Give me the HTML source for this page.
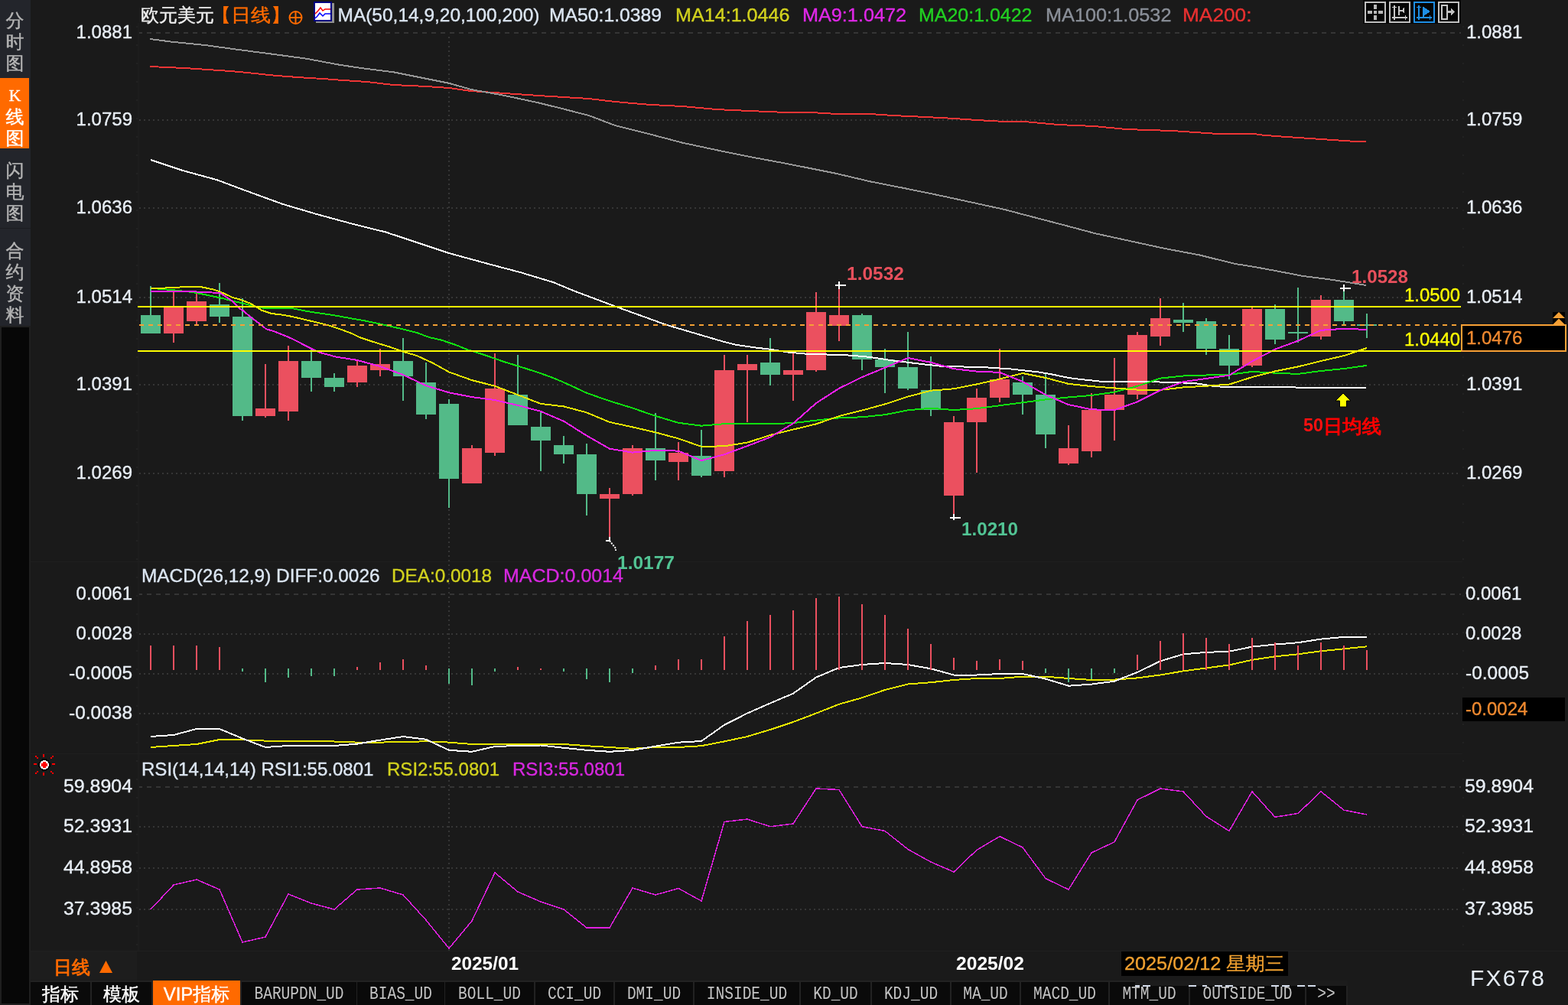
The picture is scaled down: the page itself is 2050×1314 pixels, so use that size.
<!DOCTYPE html><html><head><meta charset="utf-8"><title>EURUSD</title><style>
html,body{margin:0;padding:0;background:#1a1a1a;width:2050px;height:1314px;overflow:hidden}
svg{display:block}
text{font-family:"Liberation Sans","WenQuanYi Zen Hei",sans-serif;white-space:pre}
.cjk{font-family:"Liberation Sans","WenQuanYi Zen Hei","Noto Sans CJK SC",sans-serif}
.mono{font-family:"Liberation Mono","WenQuanYi Zen Hei",monospace}
</style></head><body>
<svg width="2050" height="1314" viewBox="0 0 2050 1314">
<rect x="0" y="0" width="2050" height="1314" fill="#1a1a1a"/>
<g shape-rendering="crispEdges">
<rect x="0" y="0" width="40" height="426" fill="#23252b"/>
<rect x="0" y="426" width="40" height="888" fill="#1f1f1f"/>
<rect x="0" y="102" width="38" height="92" fill="#ff6a00"/>
<rect x="0" y="298" width="40" height="1" fill="#1c1d21"/>
<rect x="2" y="428" width="36" height="884" fill="#070707"/>
</g>
<text x="19.5" y="35" fill="#b4b4b4" font-size="24" text-anchor="middle" class="cjk"  stroke="#b4b4b4" stroke-width="0.4">分</text>
<text x="19.5" y="63" fill="#b4b4b4" font-size="24" text-anchor="middle" class="cjk"  stroke="#b4b4b4" stroke-width="0.4">时</text>
<text x="19.5" y="91" fill="#b4b4b4" font-size="24" text-anchor="middle" class="cjk"  stroke="#b4b4b4" stroke-width="0.4">图</text>
<text x="19.5" y="132" fill="#ffffff" font-size="22" text-anchor="middle" style="font-family:'Liberation Serif',serif" stroke="#ffffff" stroke-width="0.35">K</text>
<text x="19.5" y="161" fill="#ffffff" font-size="24" text-anchor="middle" class="cjk"  stroke="#ffffff" stroke-width="0.4">线</text>
<text x="19.5" y="189" fill="#ffffff" font-size="24" text-anchor="middle" class="cjk"  stroke="#ffffff" stroke-width="0.4">图</text>
<text x="19.5" y="231" fill="#b4b4b4" font-size="24" text-anchor="middle" class="cjk"  stroke="#b4b4b4" stroke-width="0.4">闪</text>
<text x="19.5" y="259" fill="#b4b4b4" font-size="24" text-anchor="middle" class="cjk"  stroke="#b4b4b4" stroke-width="0.4">电</text>
<text x="19.5" y="287" fill="#b4b4b4" font-size="24" text-anchor="middle" class="cjk"  stroke="#b4b4b4" stroke-width="0.4">图</text>
<text x="19.5" y="336" fill="#b4b4b4" font-size="24" text-anchor="middle" class="cjk"  stroke="#b4b4b4" stroke-width="0.4">合</text>
<text x="19.5" y="364" fill="#b4b4b4" font-size="24" text-anchor="middle" class="cjk"  stroke="#b4b4b4" stroke-width="0.4">约</text>
<text x="19.5" y="392" fill="#b4b4b4" font-size="24" text-anchor="middle" class="cjk"  stroke="#b4b4b4" stroke-width="0.4">资</text>
<text x="19.5" y="420" fill="#b4b4b4" font-size="24" text-anchor="middle" class="cjk"  stroke="#b4b4b4" stroke-width="0.4">料</text>
<g shape-rendering="crispEdges">
<line x1="180" y1="43" x2="1910" y2="43" stroke="#353535" stroke-width="2" stroke-dasharray="6 6"/>
<line x1="182" y1="157" x2="1910" y2="157" stroke="#363636" stroke-width="2" stroke-dasharray="2 4"/>
<line x1="182" y1="272" x2="1910" y2="272" stroke="#363636" stroke-width="2" stroke-dasharray="2 4"/>
<line x1="182" y1="389" x2="1910" y2="389" stroke="#363636" stroke-width="2" stroke-dasharray="2 4"/>
<line x1="182" y1="503" x2="1910" y2="503" stroke="#363636" stroke-width="2" stroke-dasharray="2 4"/>
<line x1="182" y1="619" x2="1910" y2="619" stroke="#363636" stroke-width="2" stroke-dasharray="2 4"/>
<line x1="180" y1="777" x2="1910" y2="777" stroke="#353535" stroke-width="2" stroke-dasharray="6 6"/>
<line x1="182" y1="829" x2="1910" y2="829" stroke="#363636" stroke-width="2" stroke-dasharray="2 4"/>
<line x1="182" y1="881" x2="1910" y2="881" stroke="#363636" stroke-width="2" stroke-dasharray="2 4"/>
<line x1="182" y1="933" x2="1910" y2="933" stroke="#363636" stroke-width="2" stroke-dasharray="2 4"/>
<line x1="180" y1="1029" x2="1910" y2="1029" stroke="#353535" stroke-width="2" stroke-dasharray="6 6"/>
<line x1="182" y1="1081" x2="1910" y2="1081" stroke="#363636" stroke-width="2" stroke-dasharray="2 4"/>
<line x1="182" y1="1135" x2="1910" y2="1135" stroke="#363636" stroke-width="2" stroke-dasharray="2 4"/>
<line x1="182" y1="1189" x2="1910" y2="1189" stroke="#363636" stroke-width="2" stroke-dasharray="2 4"/>
<line x1="587" y1="48" x2="587" y2="1243" stroke="#363636" stroke-width="2" stroke-dasharray="2 4"/>
<rect x="180" y="30" width="2" height="1213" fill="#1d1d1d"/>
<line x1="179" y1="34" x2="179" y2="1243" stroke="#222" stroke-width="2" stroke-dasharray="2 22"/>
<line x1="1913" y1="34" x2="1913" y2="1243" stroke="#222" stroke-width="2" stroke-dasharray="2 22"/>
<rect x="40" y="734" width="1872" height="1" fill="#1f1f1f"/>
<rect x="40" y="985" width="1872" height="1" fill="#1f1f1f"/>
<rect x="40" y="1243" width="2010" height="1" fill="#202020"/>
</g>
<text x="173" y="50" fill="#e8eef5" font-size="24" text-anchor="end"  stroke="#e8eef5" stroke-width="0.35">1.0881</text><text x="1917" y="50" fill="#e8eef5" font-size="24"  stroke="#e8eef5" stroke-width="0.35">1.0881</text>
<text x="173" y="164" fill="#e8eef5" font-size="24" text-anchor="end"  stroke="#e8eef5" stroke-width="0.35">1.0759</text><text x="1917" y="164" fill="#e8eef5" font-size="24"  stroke="#e8eef5" stroke-width="0.35">1.0759</text>
<text x="173" y="279" fill="#e8eef5" font-size="24" text-anchor="end"  stroke="#e8eef5" stroke-width="0.35">1.0636</text><text x="1917" y="279" fill="#e8eef5" font-size="24"  stroke="#e8eef5" stroke-width="0.35">1.0636</text>
<text x="173" y="396" fill="#e8eef5" font-size="24" text-anchor="end"  stroke="#e8eef5" stroke-width="0.35">1.0514</text><text x="1917" y="396" fill="#e8eef5" font-size="24"  stroke="#e8eef5" stroke-width="0.35">1.0514</text>
<text x="173" y="510" fill="#e8eef5" font-size="24" text-anchor="end"  stroke="#e8eef5" stroke-width="0.35">1.0391</text><text x="1917" y="510" fill="#e8eef5" font-size="24"  stroke="#e8eef5" stroke-width="0.35">1.0391</text>
<text x="173" y="626" fill="#e8eef5" font-size="24" text-anchor="end"  stroke="#e8eef5" stroke-width="0.35">1.0269</text><text x="1917" y="626" fill="#e8eef5" font-size="24"  stroke="#e8eef5" stroke-width="0.35">1.0269</text>
<text x="173" y="784" fill="#e8eef5" font-size="24" text-anchor="end"  stroke="#e8eef5" stroke-width="0.35">0.0061</text>
<text x="173" y="836" fill="#e8eef5" font-size="24" text-anchor="end"  stroke="#e8eef5" stroke-width="0.35">0.0028</text>
<text x="173" y="888" fill="#e8eef5" font-size="24" text-anchor="end" textLength="83" lengthAdjust="spacingAndGlyphs"  stroke="#e8eef5" stroke-width="0.35">-0.0005</text>
<text x="173" y="940" fill="#e8eef5" font-size="24" text-anchor="end" textLength="83" lengthAdjust="spacingAndGlyphs"  stroke="#e8eef5" stroke-width="0.35">-0.0038</text>
<text x="1916" y="784" fill="#e8eef5" font-size="24"  stroke="#e8eef5" stroke-width="0.35">0.0061</text>
<text x="1916" y="836" fill="#e8eef5" font-size="24"  stroke="#e8eef5" stroke-width="0.35">0.0028</text>
<text x="1916" y="888" fill="#e8eef5" font-size="24" textLength="83" lengthAdjust="spacingAndGlyphs"  stroke="#e8eef5" stroke-width="0.35">-0.0005</text>
<text x="173" y="1036" fill="#e8eef5" font-size="24" text-anchor="end" textLength="90" lengthAdjust="spacingAndGlyphs"  stroke="#e8eef5" stroke-width="0.35">59.8904</text><text x="1915" y="1036" fill="#e8eef5" font-size="24" textLength="90" lengthAdjust="spacingAndGlyphs"  stroke="#e8eef5" stroke-width="0.35">59.8904</text>
<text x="173" y="1088" fill="#e8eef5" font-size="24" text-anchor="end" textLength="90" lengthAdjust="spacingAndGlyphs"  stroke="#e8eef5" stroke-width="0.35">52.3931</text><text x="1915" y="1088" fill="#e8eef5" font-size="24" textLength="90" lengthAdjust="spacingAndGlyphs"  stroke="#e8eef5" stroke-width="0.35">52.3931</text>
<text x="173" y="1142" fill="#e8eef5" font-size="24" text-anchor="end" textLength="90" lengthAdjust="spacingAndGlyphs"  stroke="#e8eef5" stroke-width="0.35">44.8958</text><text x="1915" y="1142" fill="#e8eef5" font-size="24" textLength="90" lengthAdjust="spacingAndGlyphs"  stroke="#e8eef5" stroke-width="0.35">44.8958</text>
<text x="173" y="1196" fill="#e8eef5" font-size="24" text-anchor="end" textLength="90" lengthAdjust="spacingAndGlyphs"  stroke="#e8eef5" stroke-width="0.35">37.3985</text><text x="1915" y="1196" fill="#e8eef5" font-size="24" textLength="90" lengthAdjust="spacingAndGlyphs"  stroke="#e8eef5" stroke-width="0.35">37.3985</text>
<g shape-rendering="crispEdges">
<rect x="196" y="374" width="2" height="62" fill="#53ba88"/>
<rect x="184" y="412" width="26" height="24" fill="#53ba88"/>
<rect x="226" y="382" width="2" height="66" fill="#eb505f"/>
<rect x="214" y="402" width="26" height="34" fill="#eb505f"/>
<rect x="256" y="384" width="2" height="41" fill="#eb505f"/>
<rect x="244" y="394" width="26" height="26" fill="#eb505f"/>
<rect x="286" y="370" width="2" height="52" fill="#53ba88"/>
<rect x="274" y="398" width="26" height="16" fill="#53ba88"/>
<rect x="316" y="390" width="2" height="160" fill="#53ba88"/>
<rect x="304" y="414" width="26" height="130" fill="#53ba88"/>
<rect x="346" y="476" width="2" height="70" fill="#eb505f"/>
<rect x="334" y="534" width="26" height="10" fill="#eb505f"/>
<rect x="376" y="452" width="2" height="98" fill="#eb505f"/>
<rect x="364" y="472" width="26" height="66" fill="#eb505f"/>
<rect x="406" y="456" width="2" height="56" fill="#53ba88"/>
<rect x="394" y="472" width="26" height="22" fill="#53ba88"/>
<rect x="436" y="488" width="2" height="24" fill="#53ba88"/>
<rect x="424" y="494" width="26" height="12" fill="#53ba88"/>
<rect x="466" y="470" width="2" height="36" fill="#eb505f"/>
<rect x="454" y="478" width="26" height="22" fill="#eb505f"/>
<rect x="496" y="456" width="2" height="36" fill="#eb505f"/>
<rect x="484" y="476" width="26" height="8" fill="#eb505f"/>
<rect x="526" y="442" width="2" height="82" fill="#53ba88"/>
<rect x="514" y="472" width="26" height="20" fill="#53ba88"/>
<rect x="556" y="474" width="2" height="74" fill="#53ba88"/>
<rect x="544" y="500" width="26" height="42" fill="#53ba88"/>
<rect x="586" y="522" width="2" height="142" fill="#53ba88"/>
<rect x="574" y="528" width="26" height="98" fill="#53ba88"/>
<rect x="616" y="582" width="2" height="50" fill="#eb505f"/>
<rect x="604" y="586" width="26" height="46" fill="#eb505f"/>
<rect x="646" y="462" width="2" height="134" fill="#eb505f"/>
<rect x="634" y="508" width="26" height="84" fill="#eb505f"/>
<rect x="676" y="464" width="2" height="92" fill="#53ba88"/>
<rect x="664" y="516" width="26" height="40" fill="#53ba88"/>
<rect x="706" y="537" width="2" height="79" fill="#53ba88"/>
<rect x="694" y="558" width="26" height="18" fill="#53ba88"/>
<rect x="736" y="570" width="2" height="36" fill="#53ba88"/>
<rect x="724" y="582" width="26" height="12" fill="#53ba88"/>
<rect x="766" y="580" width="2" height="94" fill="#53ba88"/>
<rect x="754" y="594" width="26" height="52" fill="#53ba88"/>
<rect x="796" y="638" width="2" height="64" fill="#eb505f"/>
<rect x="784" y="646" width="26" height="6" fill="#eb505f"/>
<rect x="826" y="582" width="2" height="66" fill="#eb505f"/>
<rect x="814" y="586" width="26" height="60" fill="#eb505f"/>
<rect x="856" y="540" width="2" height="88" fill="#53ba88"/>
<rect x="844" y="586" width="26" height="16" fill="#53ba88"/>
<rect x="886" y="578" width="2" height="50" fill="#eb505f"/>
<rect x="874" y="592" width="26" height="12" fill="#eb505f"/>
<rect x="916" y="562" width="2" height="62" fill="#53ba88"/>
<rect x="904" y="596" width="26" height="26" fill="#53ba88"/>
<rect x="946" y="464" width="2" height="160" fill="#eb505f"/>
<rect x="934" y="484" width="26" height="132" fill="#eb505f"/>
<rect x="976" y="464" width="2" height="88" fill="#eb505f"/>
<rect x="964" y="476" width="26" height="8" fill="#eb505f"/>
<rect x="1006" y="442" width="2" height="62" fill="#53ba88"/>
<rect x="994" y="474" width="26" height="16" fill="#53ba88"/>
<rect x="1036" y="462" width="2" height="62" fill="#eb505f"/>
<rect x="1024" y="484" width="26" height="6" fill="#eb505f"/>
<rect x="1066" y="382" width="2" height="104" fill="#eb505f"/>
<rect x="1054" y="408" width="26" height="76" fill="#eb505f"/>
<rect x="1096" y="376" width="2" height="70" fill="#eb505f"/>
<rect x="1084" y="412" width="26" height="14" fill="#eb505f"/>
<rect x="1126" y="410" width="2" height="74" fill="#53ba88"/>
<rect x="1114" y="412" width="26" height="58" fill="#53ba88"/>
<rect x="1156" y="456" width="2" height="58" fill="#53ba88"/>
<rect x="1144" y="470" width="26" height="10" fill="#53ba88"/>
<rect x="1186" y="434" width="2" height="76" fill="#53ba88"/>
<rect x="1174" y="480" width="26" height="28" fill="#53ba88"/>
<rect x="1216" y="466" width="2" height="78" fill="#53ba88"/>
<rect x="1204" y="510" width="26" height="26" fill="#53ba88"/>
<rect x="1246" y="544" width="2" height="128" fill="#eb505f"/>
<rect x="1234" y="552" width="26" height="96" fill="#eb505f"/>
<rect x="1276" y="508" width="2" height="110" fill="#eb505f"/>
<rect x="1264" y="520" width="26" height="32" fill="#eb505f"/>
<rect x="1306" y="456" width="2" height="70" fill="#eb505f"/>
<rect x="1294" y="496" width="26" height="24" fill="#eb505f"/>
<rect x="1336" y="492" width="2" height="50" fill="#53ba88"/>
<rect x="1324" y="500" width="26" height="16" fill="#53ba88"/>
<rect x="1366" y="488" width="2" height="98" fill="#53ba88"/>
<rect x="1354" y="516" width="26" height="52" fill="#53ba88"/>
<rect x="1396" y="556" width="2" height="52" fill="#eb505f"/>
<rect x="1384" y="586" width="26" height="20" fill="#eb505f"/>
<rect x="1426" y="514" width="2" height="84" fill="#eb505f"/>
<rect x="1414" y="536" width="26" height="54" fill="#eb505f"/>
<rect x="1456" y="468" width="2" height="108" fill="#eb505f"/>
<rect x="1444" y="516" width="26" height="20" fill="#eb505f"/>
<rect x="1486" y="434" width="2" height="88" fill="#eb505f"/>
<rect x="1474" y="438" width="26" height="78" fill="#eb505f"/>
<rect x="1516" y="390" width="2" height="62" fill="#eb505f"/>
<rect x="1504" y="416" width="26" height="24" fill="#eb505f"/>
<rect x="1546" y="396" width="2" height="38" fill="#53ba88"/>
<rect x="1534" y="418" width="26" height="4" fill="#53ba88"/>
<rect x="1576" y="416" width="2" height="48" fill="#53ba88"/>
<rect x="1564" y="420" width="26" height="36" fill="#53ba88"/>
<rect x="1606" y="438" width="2" height="58" fill="#53ba88"/>
<rect x="1594" y="456" width="26" height="22" fill="#53ba88"/>
<rect x="1636" y="402" width="2" height="78" fill="#eb505f"/>
<rect x="1624" y="404" width="26" height="74" fill="#eb505f"/>
<rect x="1666" y="398" width="2" height="52" fill="#53ba88"/>
<rect x="1654" y="404" width="26" height="40" fill="#53ba88"/>
<rect x="1696" y="376" width="2" height="72" fill="#53ba88"/>
<rect x="1684" y="434" width="26" height="2" fill="#53ba88"/>
<rect x="1726" y="386" width="2" height="58" fill="#eb505f"/>
<rect x="1714" y="392" width="26" height="48" fill="#eb505f"/>
<rect x="1756" y="380" width="2" height="44" fill="#53ba88"/>
<rect x="1744" y="392" width="26" height="28" fill="#53ba88"/>
<rect x="1786" y="410" width="2" height="32" fill="#53ba88"/>
<rect x="1774" y="424" width="26" height="2" fill="#53ba88"/>
</g>
<g shape-rendering="crispEdges">
<polyline points="196,87 241.5,89 271,91 301.5,93 323.5,95 361.6,99 392,101.2 421.6,103 452,105.2 480,107 514,111 558,113 587,115 616,119 660,122 704,125 733.5,126.8 770,129 804,133 848,136.8 892,139 936,143 980,145 1023.5,146.8 1060,147 1094,149 1138,149 1167,151 1211,153 1248,155 1277,157 1313.5,159 1340,159 1383,163 1431,165 1472,169 1532,171 1562,173 1593,175 1640,175 1652,176.8 1682,179 1712,181 1742,183 1772,185 1786,185" fill="none" stroke="#f03535" stroke-width="2" stroke-linejoin="round" />
<polyline points="196,51 224,54.6 268,59 312,65 356,70.7 400,76.6 443.5,84.7 470,88.7 514,94.2 558,103 587,108.8 616,117 660,125 704,134.4 733.5,141.7 770,151 804,164 848,175 892,186.6 936,196 980,205 1023.5,213 1053,218.8 1094,227 1138,237.4 1182,246 1226,255 1270,264.5 1313.5,274 1340,281 1386,293 1431,305 1477,315 1523,325 1568,333.4 1614,344.8 1642,349.3 1662,353 1682,356.8 1704,361 1734,364.7 1762,369 1786,373" fill="none" stroke="#969696" stroke-width="2" stroke-linejoin="round" />
<polyline points="197,209 239,223 283,235 326,251 370,267 414,280 460,292.5 504,303.4 548,318 587,331 636,344.4 680,356 724,369.3 747,379 800,399 872,425 940,445 947,447 962,450.7 977,453 992,455 1007,456.7 1030,460.5 1052,462.5 1112,464.6 1134,466.6 1152,469 1164,471 1181,473 1194,474.7 1211,476.7 1228,478.5 1292,480.5 1322,482.5 1345,485 1360,486.8 1372,488.8 1383,491 1392,493 1404,495 1420,496.7 1442,499 1500,499 1531,500 1562,501 1585,504.6 1600,506 1786,507" fill="none" stroke="#ffffff" stroke-width="2" stroke-linejoin="round" />
</g>
<g shape-rendering="crispEdges">
<polyline points="197,376.7 212,378 234,380 251,382 262,384 272,386 281,388 291,390 298,392 306,394 315,396 323,398 332,400 342,402.5 362,403 382,403 391,405 402,407 414,409 431,411.3 441,413 452,415 463,417 475,419 497,423.5 527,430.5 545,435 561,441 577,444.6 597,451.4 612,457.5 627,462 643,467.4 658,472.7 673,477.3 688,482 703.5,487 719,492.5 734,498.6 749,505.4 767,513.8 797,524.3 827,533.5 857,543.9 887,552.8 917,556.7 947,554.2 977,554.4 1007,554.2 1037,553.1 1067,549.6 1097,546.4 1127,545.3 1157,542.2 1187,536.3 1217,533.8 1247,536 1277,534.2 1307,530.2 1337,526.3 1367,522.4 1397,519.4 1427,516.9 1457,512.6 1487,504.9 1517,494.6 1547,491.5 1577,490.5 1607,489.9 1637,485.9 1667,487.7 1697,488.9 1727,485 1757,482 1787,477.9" fill="none" stroke="#10e010" stroke-width="2" stroke-linejoin="round" />
<polyline points="197,376.7 227,376.4 242,374.8 262,375 272,377 281,379 291,382.8 304,389 312,391 327,396.5 338,403 342,405.7 355,410 370,411.7 382,414 397,417.5 414,421.5 430,425.4 446,430.8 460,436 470,441 490,447.6 510,453.7 527,459.8 545,465 566.5,475 587,486.4 617,497.1 647,504.7 677,516.3 707,527.9 737,531.4 767,539.4 797,551.9 827,558.4 857,565.3 887,573.4 917,583.9 947,583.3 977,578.6 1007,568.9 1037,561.6 1067,554.4 1097,544.1 1127,536.6 1157,528.4 1187,518.6 1217,510.7 1247,508.3 1277,502.4 1307,495.6 1337,488 1367,494 1397,501.9 1427,505.1 1457,507.4 1487,509.6 1517,509.9 1547,506.4 1577,504.7 1607,502.6 1637,493.1 1667,485.4 1697,479.4 1727,472 1757,465.1 1787,455" fill="none" stroke="#e6e600" stroke-width="2" stroke-linejoin="round" />
<polyline points="197,381 227,381 257,381.5 287.6,383 296.8,389 304.4,394 312,402.6 317.6,406 327,414 342.4,425.4 347.6,430 357.6,433 372.9,439 377.6,441 388,446 403.3,454 407.6,456 418.5,461 433.7,465 437,466.2 467,470.9 497,479.1 527,490 557,504.2 587,513.3 617,519.1 647,523.1 677,530 707,537.8 737,550.7 767,569.6 797,586.7 827,591.6 857,588.9 887,589.6 917,602.2 947,594.2 977,583.1 1007,571.6 1037,553.6 1067,527.1 1097,507.8 1127,493.1 1157,480.7 1187,468 1217,473.8 1247,482.2 1277,485.6 1307,486.9 1337,498.9 1367,516.2 1397,529.1 1427,535.3 1457,536.2 1487,525.3 1517,510.2 1547,499.3 1577,494.9 1607,490.7 1637,472.4 1667,456.7 1697,445.6 1727,431.8 1757,429.8 1787,430.9" fill="none" stroke="#f020f0" stroke-width="2" stroke-linejoin="round" />
</g>
<g shape-rendering="crispEdges">
<rect x="180" y="400" width="1730" height="2" fill="#ffff00"/>
<rect x="180" y="458" width="1730" height="2" fill="#ffff00"/>
<line x1="182" y1="425" x2="1906" y2="425" stroke="#f5a035" stroke-width="2" stroke-dasharray="6 6"/>
</g>
<g shape-rendering="crispEdges" fill="#ffffff">
<rect x="1096" y="368" width="2" height="10"/><rect x="1092" y="372" width="14" height="2"/>
<rect x="1756" y="372" width="2" height="9"/><rect x="1752" y="376" width="14" height="2"/>
<rect x="1246" y="672" width="2" height="8"/><rect x="1242" y="676" width="14" height="2"/>
<rect x="796" y="702" width="2" height="6"/><rect x="792" y="706" width="6" height="2"/>
</g>
<polyline points="797,707 805,717 805,720" fill="none" stroke="#ffffff" stroke-width="2" stroke-dasharray="2 1.5"/>
<text x="1107" y="366" fill="#e8505c" font-size="24" font-weight="bold" textLength="75" lengthAdjust="spacingAndGlyphs" >1.0532</text>
<text x="1767" y="370" fill="#e8505c" font-size="24" font-weight="bold" textLength="74" lengthAdjust="spacingAndGlyphs" >1.0528</text>
<text x="807" y="744" fill="#52c494" font-size="24" font-weight="bold" textLength="75" lengthAdjust="spacingAndGlyphs" >1.0177</text>
<text x="1257" y="700" fill="#52c494" font-size="24" font-weight="bold" textLength="74" lengthAdjust="spacingAndGlyphs" >1.0210</text>
<text x="1836" y="394" fill="#ffff00" font-size="24" textLength="73" lengthAdjust="spacingAndGlyphs"  stroke="#ffff00" stroke-width="0.35">1.0500</text>
<text x="1836" y="452" fill="#ffff00" font-size="24" textLength="73" lengthAdjust="spacingAndGlyphs"  stroke="#ffff00" stroke-width="0.35">1.0440</text>
<polygon points="1756,514 1766,524 1760.5,524 1760.5,532 1751.5,532 1751.5,524 1746,524" fill="#ffff00" stroke="#000" stroke-width="1"/>
<text x="1704" y="564" fill="#ff1010" font-size="24" font-weight="bold" textLength="26" lengthAdjust="spacingAndGlyphs" >50</text>
<text x="1730" y="566" fill="#ff0000" font-size="25" class="cjk" textLength="76" lengthAdjust="spacingAndGlyphs" stroke="#ff0000" stroke-width="1">日均线</text>
<rect x="1911" y="425" width="136" height="34" fill="#000" stroke="#f8a035" stroke-width="2"/>
<rect x="2030" y="408" width="16" height="16" fill="#000"/>
<polygon points="2038,408 2046,416 2030,416" fill="#f4a035"/><polygon points="2038,416.5 2046,424.5 2030,424.5" fill="#f4a035"/>
<text x="1917" y="450" fill="#f08a30" font-size="24"  stroke="#f08a30" stroke-width="0.35">1.0476</text>
<g shape-rendering="crispEdges">
<polyline points="197,977 227,975 257,973 287,967 317,967.3 347,968.6 377,969 407,969 437,969.5 467,970.6 497,970.6 527,970 557,969.3 587,970.6 617,973 647,973 677,973 707,972.7 737,973 767,975.2 797,977 827,978.8 857,977 887,977 917,975.2 947,969.4 977,963 1007,954 1037,944 1067,932.6 1097,920.7 1127,912.3 1157,902 1187,894.5 1217,892.2 1247,889 1277,887 1307,887 1337,884.6 1367,884.6 1397,887 1427,889 1457,888.6 1487,886.4 1517,882.5 1547,877.4 1577,873.4 1607,869.5 1637,862.8 1667,858.3 1697,855.3 1727,851.3 1757,848.3 1787,845.3" fill="none" stroke="#e6e600" stroke-width="2" stroke-linejoin="round" />
<polyline points="197,963 227,961 257,953 287,953 317,965.5 347,977 377,975 407,975 437,975 467,972.6 497,967.6 527,963 557,966.8 587,980.8 617,982.8 647,976 677,975 707,974.5 737,977.8 767,980.8 797,982.8 827,980.8 857,975.7 887,970.7 917,969 947,947.8 977,932.6 1007,919.4 1037,906.7 1067,885.6 1097,873 1127,869 1157,867 1187,869 1217,874.3 1247,882.5 1277,882.5 1307,881 1337,881 1367,887.6 1397,896.7 1427,894.6 1457,890.7 1487,878.9 1517,864.4 1547,855.3 1577,852.9 1607,851.7 1637,845.6 1667,842.6 1697,840.2 1727,835.6 1757,832.9 1787,832.9" fill="none" stroke="#ffffff" stroke-width="2" stroke-linejoin="round" />
<rect x="196" y="844" width="2" height="32" fill="#eb505f"/>
<rect x="226" y="844" width="2" height="32" fill="#eb505f"/>
<rect x="256" y="844" width="2" height="32" fill="#eb505f"/>
<rect x="286" y="846" width="2" height="30" fill="#eb505f"/>
<rect x="316" y="874" width="2" height="4" fill="#53ba88"/>
<rect x="346" y="874" width="2" height="18" fill="#53ba88"/>
<rect x="376" y="874" width="2" height="12" fill="#53ba88"/>
<rect x="406" y="874" width="2" height="10" fill="#53ba88"/>
<rect x="436" y="874" width="2" height="10" fill="#53ba88"/>
<rect x="466" y="872" width="2" height="4" fill="#eb505f"/>
<rect x="496" y="866" width="2" height="10" fill="#eb505f"/>
<rect x="526" y="862" width="2" height="14" fill="#eb505f"/>
<rect x="556" y="870" width="2" height="6" fill="#eb505f"/>
<rect x="586" y="874" width="2" height="20" fill="#53ba88"/>
<rect x="616" y="874" width="2" height="22" fill="#53ba88"/>
<rect x="646" y="874" width="2" height="4" fill="#53ba88"/>
<rect x="676" y="872" width="2" height="4" fill="#eb505f"/>
<rect x="706" y="874" width="2" height="2" fill="#eb505f"/>
<rect x="736" y="874" width="2" height="4" fill="#53ba88"/>
<rect x="766" y="874" width="2" height="14" fill="#53ba88"/>
<rect x="796" y="874" width="2" height="18" fill="#53ba88"/>
<rect x="826" y="874" width="2" height="6" fill="#53ba88"/>
<rect x="856" y="870" width="2" height="6" fill="#eb505f"/>
<rect x="886" y="862" width="2" height="14" fill="#eb505f"/>
<rect x="916" y="862" width="2" height="14" fill="#eb505f"/>
<rect x="946" y="832" width="2" height="44" fill="#eb505f"/>
<rect x="976" y="812" width="2" height="64" fill="#eb505f"/>
<rect x="1006" y="804" width="2" height="72" fill="#eb505f"/>
<rect x="1036" y="798" width="2" height="78" fill="#eb505f"/>
<rect x="1066" y="782" width="2" height="94" fill="#eb505f"/>
<rect x="1096" y="780" width="2" height="96" fill="#eb505f"/>
<rect x="1126" y="790" width="2" height="86" fill="#eb505f"/>
<rect x="1156" y="804" width="2" height="72" fill="#eb505f"/>
<rect x="1186" y="822" width="2" height="54" fill="#eb505f"/>
<rect x="1216" y="842" width="2" height="34" fill="#eb505f"/>
<rect x="1246" y="860" width="2" height="16" fill="#eb505f"/>
<rect x="1276" y="864" width="2" height="12" fill="#eb505f"/>
<rect x="1306" y="862" width="2" height="14" fill="#eb505f"/>
<rect x="1336" y="864" width="2" height="12" fill="#eb505f"/>
<rect x="1366" y="874" width="2" height="6" fill="#53ba88"/>
<rect x="1396" y="874" width="2" height="18" fill="#53ba88"/>
<rect x="1426" y="874" width="2" height="14" fill="#53ba88"/>
<rect x="1456" y="874" width="2" height="6" fill="#53ba88"/>
<rect x="1486" y="856" width="2" height="20" fill="#eb505f"/>
<rect x="1516" y="838" width="2" height="38" fill="#eb505f"/>
<rect x="1546" y="828" width="2" height="48" fill="#eb505f"/>
<rect x="1576" y="834" width="2" height="42" fill="#eb505f"/>
<rect x="1606" y="842" width="2" height="34" fill="#eb505f"/>
<rect x="1636" y="834" width="2" height="42" fill="#eb505f"/>
<rect x="1666" y="840" width="2" height="36" fill="#eb505f"/>
<rect x="1696" y="844" width="2" height="32" fill="#eb505f"/>
<rect x="1726" y="840" width="2" height="36" fill="#eb505f"/>
<rect x="1756" y="844" width="2" height="32" fill="#eb505f"/>
<rect x="1786" y="850" width="2" height="26" fill="#eb505f"/>
</g>
<rect x="1912" y="912" width="134" height="31" fill="#000"/>
<text x="1916" y="935" fill="#f08a30" font-size="24"  stroke="#f08a30" stroke-width="0.35">-0.0024</text>
<g shape-rendering="crispEdges">
<polyline points="197,1189 227,1157 257,1150 287,1163 317,1232 347,1225 377,1169 407,1181 437,1189 467,1163 497,1161 527,1170 557,1203 587,1240 617,1204 647,1141 677,1166 707,1179 737,1189 767,1213 797,1213 827,1161 857,1170 887,1161.5 917,1178 947,1074.5 977,1071 1007,1080.7 1037,1077 1067,1031 1097,1032.5 1127,1080.7 1157,1086.5 1187,1110.4 1217,1127 1247,1140 1277,1111.3 1307,1093.6 1337,1108 1367,1148.6 1397,1163 1427,1115 1457,1100.8 1487,1045.9 1517,1031 1547,1034.9 1577,1067.4 1607,1086.5 1637,1034.9 1667,1068.3 1697,1063.5 1727,1034.9 1757,1059.2 1787,1065" fill="none" stroke="#e020e0" stroke-width="1.5" stroke-linejoin="round" />
</g>
<g shape-rendering="crispEdges">
<circle cx="58" cy="1000" r="8" fill="#000"/><circle cx="58" cy="1000" r="6" fill="#fff"/>
<rect x="54" y="998" width="8" height="4" fill="#f00"/><rect x="56" y="996" width="4" height="8" fill="#f00"/>
<rect x="56" y="986" width="2" height="4" fill="#f00"/>
<rect x="56" y="1010" width="2" height="4" fill="#f00"/>
<rect x="44" y="998" width="4" height="2" fill="#f00"/>
<rect x="68" y="998" width="4" height="2" fill="#f00"/>
<rect x="46" y="988" width="2" height="2" fill="#f00"/>
<rect x="48" y="990" width="2" height="2" fill="#f00"/>
<rect x="68" y="988" width="2" height="2" fill="#f00"/>
<rect x="66" y="990" width="2" height="2" fill="#f00"/>
<rect x="48" y="1008" width="2" height="2" fill="#f00"/>
<rect x="46" y="1010" width="2" height="2" fill="#f00"/>
<rect x="66" y="1008" width="2" height="2" fill="#f00"/>
<rect x="68" y="1010" width="2" height="2" fill="#f00"/>
</g>
<text x="184" y="28" fill="#eeeeee" font-size="24" class="cjk" textLength="96" lengthAdjust="spacingAndGlyphs"  stroke="#eeeeee" stroke-width="0.4">欧元美元</text>
<text x="276" y="28" fill="#ff6a00" font-size="24" class="cjk" textLength="104" lengthAdjust="spacingAndGlyphs"  stroke="#ff6a00" stroke-width="0.4">【日线】</text>
<g fill="none" stroke="#ff6a00" stroke-width="2"><circle cx="386.5" cy="23" r="8"/><line x1="378" y1="23" x2="395" y2="23"/><line x1="386.5" y1="15" x2="386.5" y2="31"/></g>
<g shape-rendering="crispEdges"><rect x="413" y="4" width="24" height="26" fill="#909090"/><rect x="410" y="2" width="24" height="26" fill="#000080"/><rect x="412" y="4" width="20" height="22" fill="#ffffff"/></g>
<polyline points="412,18 416,14 419,10 422,14 425,12 428,12 432,12" fill="none" stroke="#ff0000" stroke-width="1.5"/>
<polyline points="412,24 415,21 418,17 422,21 425,18 432,18" fill="none" stroke="#0000ff" stroke-width="1.5"/>
<text x="441.5" y="28" fill="#dce6f2" font-size="24" textLength="264" lengthAdjust="spacingAndGlyphs"  stroke="#dce6f2" stroke-width="0.35">MA(50,14,9,20,100,200)</text>
<text x="718" y="28" fill="#dce6f2" font-size="24" textLength="147" lengthAdjust="spacingAndGlyphs"  stroke="#dce6f2" stroke-width="0.35">MA50:1.0389</text>
<text x="883" y="28" fill="#d2d21e" font-size="24" textLength="149.5" lengthAdjust="spacingAndGlyphs"  stroke="#d2d21e" stroke-width="0.35">MA14:1.0446</text>
<text x="1049" y="28" fill="#e028e8" font-size="24" textLength="136" lengthAdjust="spacingAndGlyphs"  stroke="#e028e8" stroke-width="0.35">MA9:1.0472</text>
<text x="1201" y="28" fill="#22d022" font-size="24" textLength="148.5" lengthAdjust="spacingAndGlyphs"  stroke="#22d022" stroke-width="0.35">MA20:1.0422</text>
<text x="1367" y="28" fill="#8a8f98" font-size="24" textLength="164.5" lengthAdjust="spacingAndGlyphs"  stroke="#8a8f98" stroke-width="0.35">MA100:1.0532</text>
<text x="1546" y="28" fill="#e83030" font-size="24" textLength="90.5" lengthAdjust="spacingAndGlyphs"  stroke="#e83030" stroke-width="0.35">MA200:</text>
<text x="185" y="761" fill="#dce6f2" font-size="24" textLength="311.5" lengthAdjust="spacingAndGlyphs"  stroke="#dce6f2" stroke-width="0.35">MACD(26,12,9) DIFF:0.0026</text>
<text x="512" y="761" fill="#d2d21e" font-size="24" textLength="131" lengthAdjust="spacingAndGlyphs"  stroke="#d2d21e" stroke-width="0.35">DEA:0.0018</text>
<text x="658" y="761" fill="#d828e0" font-size="24" textLength="157" lengthAdjust="spacingAndGlyphs"  stroke="#d828e0" stroke-width="0.35">MACD:0.0014</text>
<text x="185" y="1014" fill="#dce6f2" font-size="24" textLength="303.5" lengthAdjust="spacingAndGlyphs"  stroke="#dce6f2" stroke-width="0.35">RSI(14,14,14) RSI1:55.0801</text>
<text x="506" y="1014" fill="#d2d21e" font-size="24" textLength="147" lengthAdjust="spacingAndGlyphs"  stroke="#d2d21e" stroke-width="0.35">RSI2:55.0801</text>
<text x="670" y="1014" fill="#d828e0" font-size="24" textLength="147" lengthAdjust="spacingAndGlyphs"  stroke="#d828e0" stroke-width="0.35">RSI3:55.0801</text>
<g shape-rendering="crispEdges">
<rect x="1782" y="0" width="128" height="31" fill="#050505"/>
<rect x="1785" y="3" width="26" height="26" fill="none" stroke="#c0c0c0" stroke-width="2"/>
<rect x="1817" y="3" width="26" height="26" fill="none" stroke="#c0c0c0" stroke-width="2"/>
<rect x="1849" y="3" width="26" height="26" fill="none" stroke="#1e8fe6" stroke-width="2"/>
<rect x="1881" y="3" width="26" height="26" fill="none" stroke="#c0c0c0" stroke-width="2"/>
<g fill="#b8b8b8"><rect x="1796" y="6" width="4" height="6"/><rect x="1796" y="14" width="4" height="4"/><rect x="1796" y="20" width="4" height="6"/><rect x="1788" y="14" width="6" height="4"/><rect x="1802" y="14" width="6" height="4"/></g>
<g fill="#c8c8c8"><rect x="1822" y="7" width="2" height="19"/><rect x="1820" y="9" width="6" height="1"/><rect x="1820" y="22" width="20" height="2"/><rect x="1837" y="20" width="1" height="6"/><rect x="1828" y="8" width="2" height="12"/><rect x="1830" y="13" width="3" height="2"/><polygon points="1833,14 1836,9 1836,18"/></g>
<g fill="#1e8fe6"><rect x="1854" y="7" width="2" height="19"/><rect x="1852" y="9" width="6" height="1"/><rect x="1852" y="22" width="20" height="2"/><rect x="1869" y="20" width="1" height="6"/><polygon points="1861,9 1870,15 1861,21"/><rect x="1860" y="9" width="2" height="13"/></g>
<g><rect x="1885" y="7" width="7" height="18" fill="none" stroke="#c8c8c8" stroke-width="2"/><rect x="1892" y="14" width="8" height="3" fill="#c0c0c0"/><polygon points="1897,10 1902,15.5 1897,21" fill="#c0c0c0"/></g>
</g>
<rect x="40" y="1244" width="139" height="37" fill="#1d1d1d"/>
<text x="70" y="1272.5" fill="#ff6a00" font-size="24" class="cjk" textLength="48" lengthAdjust="spacingAndGlyphs" stroke="#ff6a00" stroke-width="0.9">日线</text>
<polygon points="138.5,1256 147,1272 130,1272" fill="#ff6a00"/>
<text x="590" y="1267.5" fill="#ffffff" font-size="24" font-weight="bold" textLength="88" lengthAdjust="spacingAndGlyphs" >2025/01</text>
<text x="1250" y="1267.5" fill="#ffffff" font-size="24" font-weight="bold" textLength="89" lengthAdjust="spacingAndGlyphs" >2025/02</text>
<rect x="1466" y="1244" width="218" height="32" fill="#000"/>
<text x="1470" y="1267.5" fill="#f0a030" font-size="24" textLength="209" lengthAdjust="spacingAndGlyphs"  stroke="#f0a030" stroke-width="0.35">2025/02/12 星期三</text>
<text x="1922" y="1289" fill="#e6eef8" font-size="30" textLength="97" lengthAdjust="spacing">FX678</text>
<rect x="40" y="1282" width="1722" height="32" fill="#222"/>
<rect x="40" y="1284" width="78" height="30" fill="#0a0a0a"/>
<text x="79" y="1308" fill="#ffffff" font-size="24" text-anchor="middle" class="cjk"  stroke="#ffffff" stroke-width="0.4">指标</text>
<rect x="120" y="1284" width="78" height="30" fill="#0a0a0a"/>
<text x="159" y="1308" fill="#ffffff" font-size="24" text-anchor="middle" class="cjk"  stroke="#ffffff" stroke-width="0.4">模板</text>
<rect x="200" y="1282" width="114" height="32" fill="#ff6a00"/>
<text x="257" y="1308" fill="#ffffff" font-size="24" text-anchor="middle" class="cjk"  stroke="#ffffff" stroke-width="0.4">VIP指标</text>
<rect x="316" y="1284" width="150" height="30" fill="#0a0a0a"/>
<text x="391" y="1305.5" fill="#c4c4c4" font-size="23" text-anchor="middle" class="mono" textLength="117" lengthAdjust="spacingAndGlyphs" >BARUPDN_UD</text>
<rect x="467" y="1284" width="114" height="30" fill="#0a0a0a"/>
<text x="524" y="1305.5" fill="#c4c4c4" font-size="23" text-anchor="middle" class="mono" textLength="81.9" lengthAdjust="spacingAndGlyphs" >BIAS_UD</text>
<rect x="582" y="1284" width="116" height="30" fill="#0a0a0a"/>
<text x="640" y="1305.5" fill="#c4c4c4" font-size="23" text-anchor="middle" class="mono" textLength="81.9" lengthAdjust="spacingAndGlyphs" >BOLL_UD</text>
<rect x="700" y="1284" width="102" height="30" fill="#0a0a0a"/>
<text x="751" y="1305.5" fill="#c4c4c4" font-size="23" text-anchor="middle" class="mono" textLength="70.2" lengthAdjust="spacingAndGlyphs" >CCI_UD</text>
<rect x="804" y="1284" width="102" height="30" fill="#0a0a0a"/>
<text x="855" y="1305.5" fill="#c4c4c4" font-size="23" text-anchor="middle" class="mono" textLength="70.2" lengthAdjust="spacingAndGlyphs" >DMI_UD</text>
<rect x="908" y="1284" width="137" height="30" fill="#0a0a0a"/>
<text x="976.5" y="1305.5" fill="#c4c4c4" font-size="23" text-anchor="middle" class="mono" textLength="105.3" lengthAdjust="spacingAndGlyphs" >INSIDE_UD</text>
<rect x="1047" y="1284" width="91" height="30" fill="#0a0a0a"/>
<text x="1092.5" y="1305.5" fill="#c4c4c4" font-size="23" text-anchor="middle" class="mono" textLength="58.5" lengthAdjust="spacingAndGlyphs" >KD_UD</text>
<rect x="1140" y="1284" width="102" height="30" fill="#0a0a0a"/>
<text x="1191" y="1305.5" fill="#c4c4c4" font-size="23" text-anchor="middle" class="mono" textLength="70.2" lengthAdjust="spacingAndGlyphs" >KDJ_UD</text>
<rect x="1244" y="1284" width="89" height="30" fill="#0a0a0a"/>
<text x="1288.5" y="1305.5" fill="#c4c4c4" font-size="23" text-anchor="middle" class="mono" textLength="58.5" lengthAdjust="spacingAndGlyphs" >MA_UD</text>
<rect x="1335" y="1284" width="114" height="30" fill="#0a0a0a"/>
<text x="1392" y="1305.5" fill="#c4c4c4" font-size="23" text-anchor="middle" class="mono" textLength="81.9" lengthAdjust="spacingAndGlyphs" >MACD_UD</text>
<rect x="1451" y="1284" width="103" height="30" fill="#0a0a0a"/>
<text x="1502.5" y="1305.5" fill="#c4c4c4" font-size="23" text-anchor="middle" class="mono" textLength="70.2" lengthAdjust="spacingAndGlyphs" >MTM_UD</text>
<rect x="1556" y="1284" width="150" height="30" fill="#0a0a0a"/>
<text x="1631" y="1305.5" fill="#c4c4c4" font-size="23" text-anchor="middle" class="mono" textLength="117" lengthAdjust="spacingAndGlyphs" >OUTSIDE_UD</text>
<rect x="1708" y="1284" width="52" height="30" fill="#0a0a0a"/>
<text x="1734" y="1305.5" fill="#c4c4c4" font-size="23" text-anchor="middle" class="mono" textLength="23.4" lengthAdjust="spacingAndGlyphs" >>></text>
<rect x="1484" y="1282" width="278" height="7" fill="#1c1c1c"/>
<g fill="#d4dceb" shape-rendering="crispEdges">
<rect x="1484" y="1288" width="6" height="2"/>
<rect x="1494" y="1288" width="10" height="2"/>
<rect x="1554" y="1288" width="10" height="2"/>
<rect x="1572" y="1288" width="6" height="2"/>
<rect x="1588" y="1288" width="10" height="2"/>
<rect x="1602" y="1288" width="10" height="2"/>
<rect x="1662" y="1288" width="10" height="2"/>
<rect x="1676" y="1288" width="10" height="2"/>
<rect x="1696" y="1288" width="10" height="2"/>
<rect x="1710" y="1288" width="10" height="2"/>
</g>
</svg></body></html>
